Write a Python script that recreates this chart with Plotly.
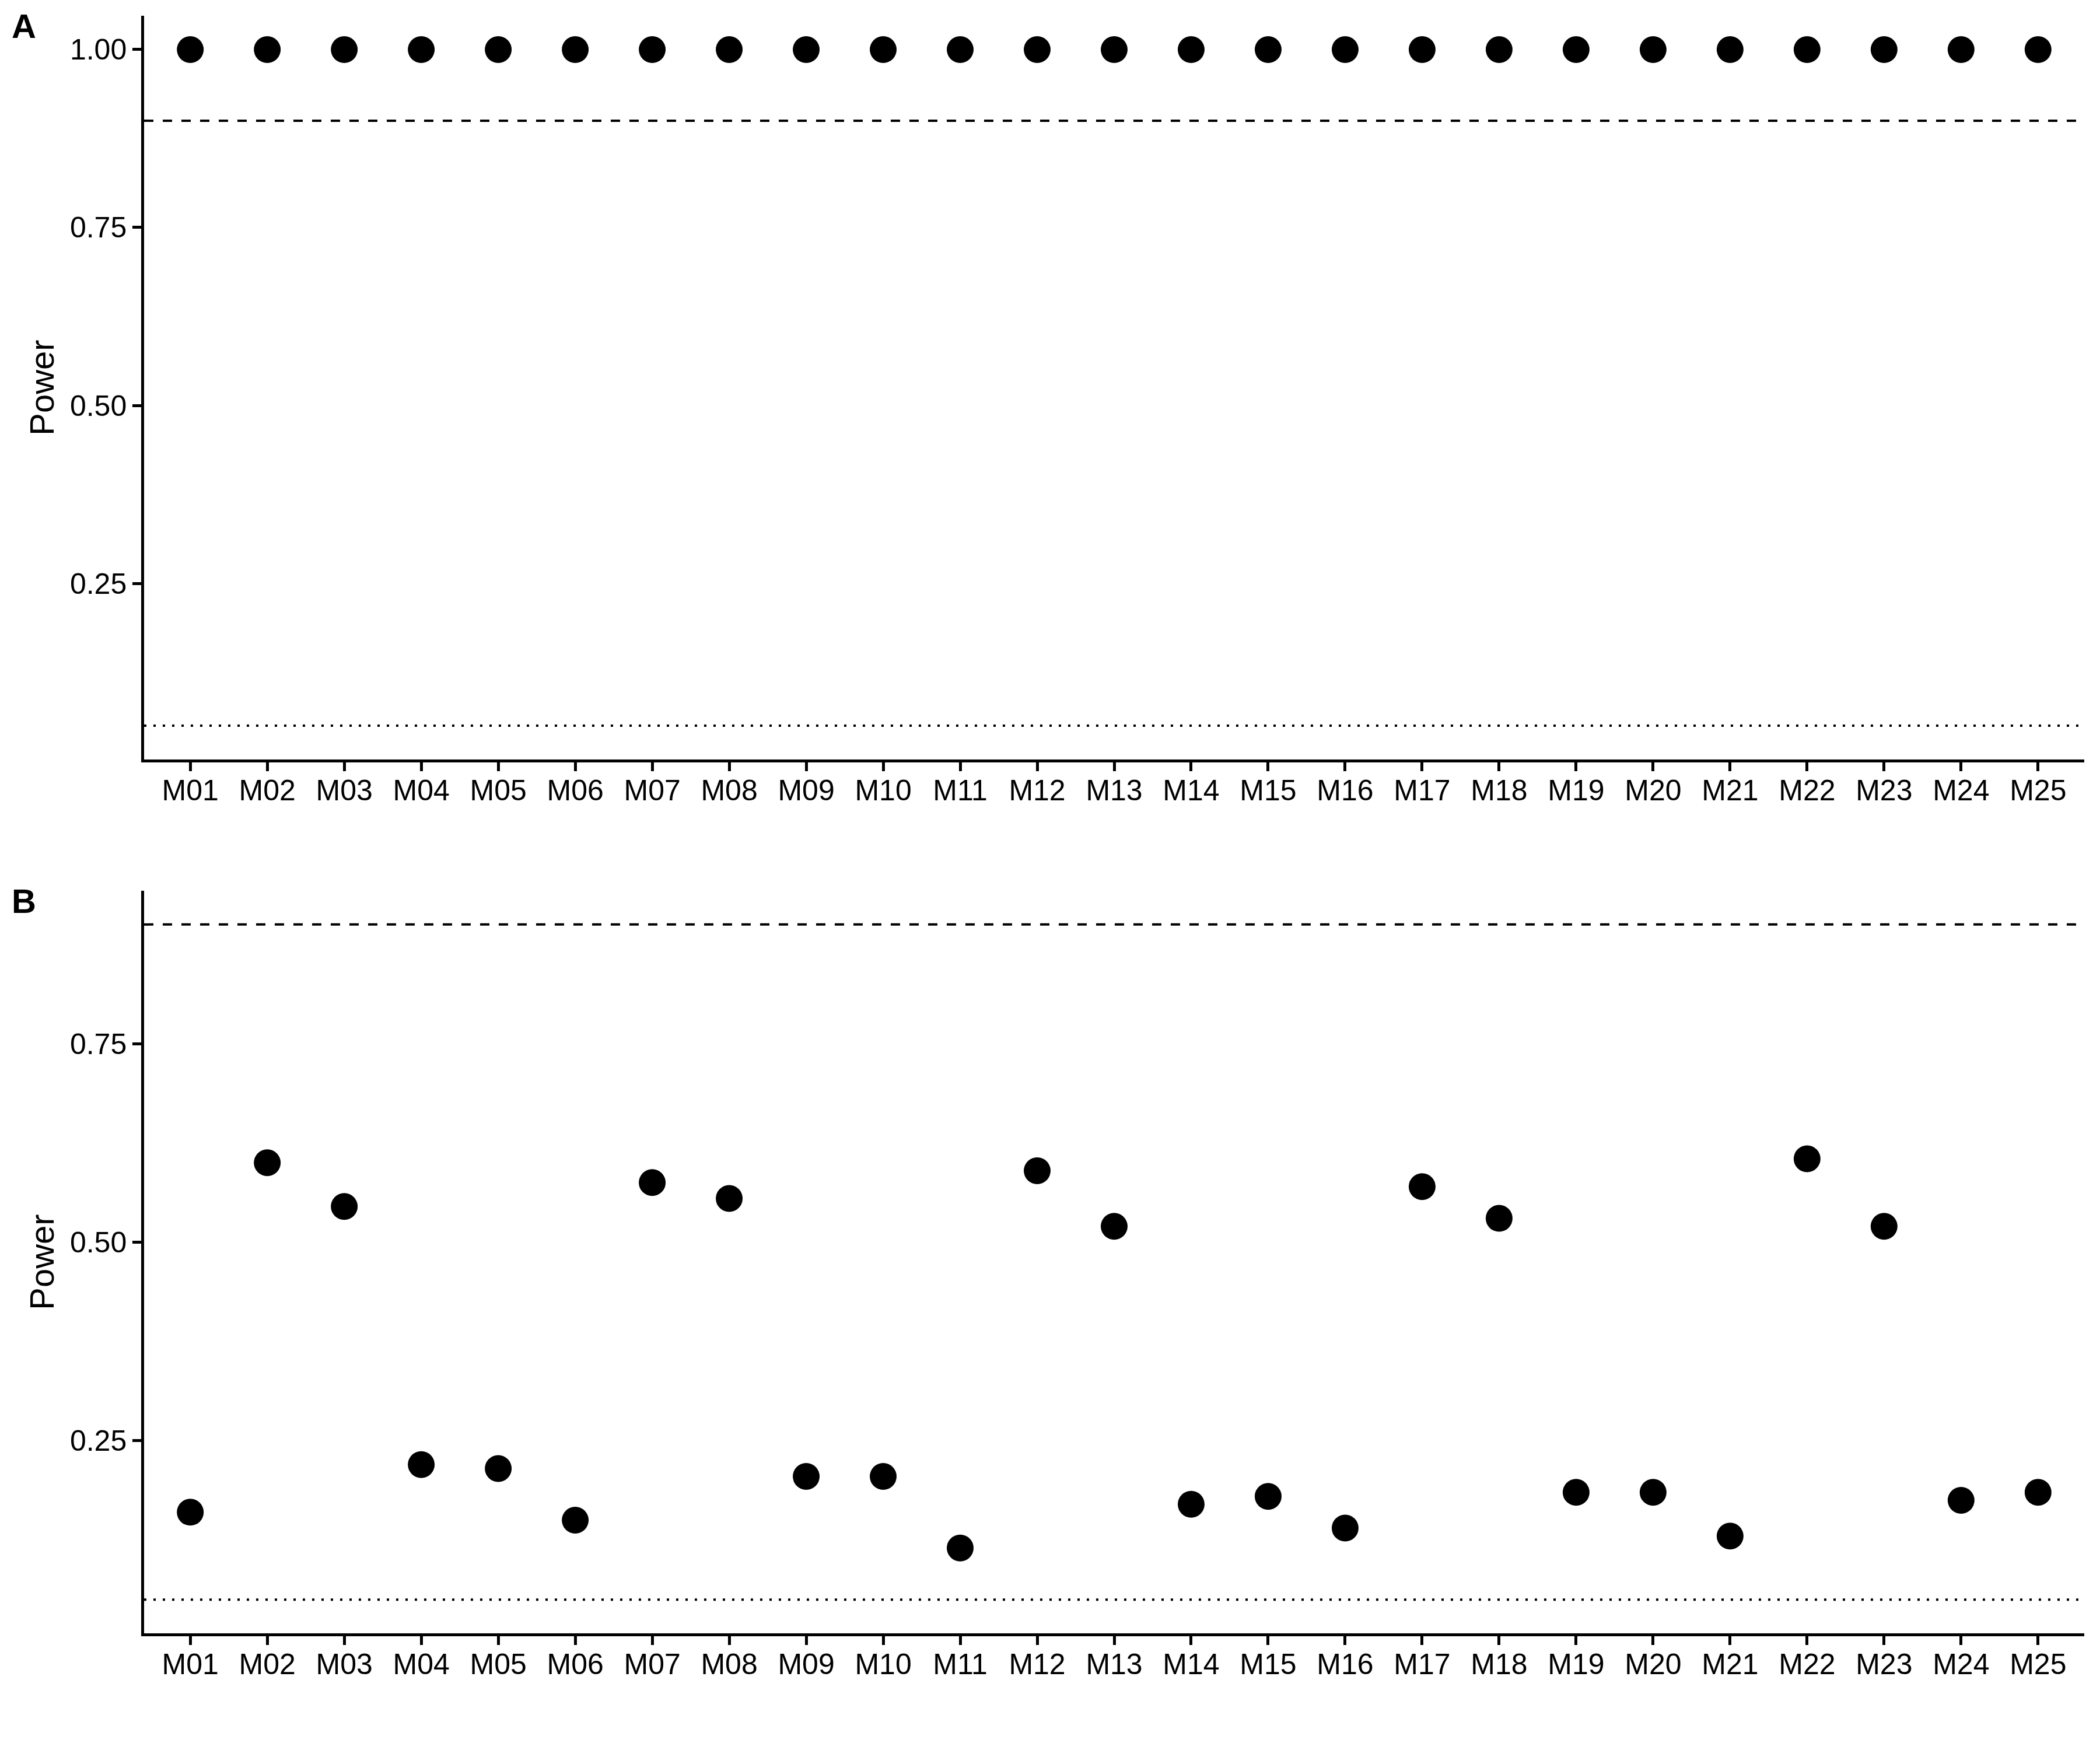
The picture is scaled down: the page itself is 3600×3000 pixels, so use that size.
import plotly.graph_objects as go

models = [f"M{i:02d}" for i in range(1, 26)]
power_a = [1.0] * 25
power_b = [0.16, 0.60, 0.545, 0.22, 0.215, 0.15, 0.575, 0.555, 0.205, 0.205,
           0.115, 0.59, 0.52, 0.17, 0.18, 0.14, 0.57, 0.53, 0.185, 0.185,
           0.13, 0.605, 0.52, 0.175, 0.185]
target_power = 0.9
alpha_level = 0.05
yticks_a = [0.25, 0.50, 0.75, 1.00]
yticks_b = [0.25, 0.50, 0.75]
panel_labels = ["A", "B"]

W, H = 3600, 3000
OFF = 8  # default page body margin in the HTML output
FONT = "Liberation Sans, Arial, sans-serif"


def px_x(X):
    return (X - OFF) / W


def px_y(Y):
    return 1 - (Y - OFF) / H


x_dom = [px_x(247), px_x(3573)]
ya_dom = [px_y(1302), px_y(27)]
yb_dom = [px_y(2800), px_y(1527)]


def yrange(vals):
    lo = min(min(vals), alpha_level)
    hi = max(max(vals), target_power)
    pad = 0.05 * (hi - lo)
    return [lo - pad, hi + pad]


fig = go.Figure()
marker = dict(color="black", size=46, line=dict(width=0))
fig.add_trace(go.Scatter(x=models, y=power_a, mode="markers", marker=marker,
                         xaxis="x", yaxis="y", showlegend=False))
fig.add_trace(go.Scatter(x=models, y=power_b, mode="markers", marker=marker,
                         xaxis="x2", yaxis="y2", showlegend=False))

common_x = dict(type="category", categoryorder="array", categoryarray=models,
                range=[-0.6, len(models) - 0.4], showline=True, linewidth=4.5,
                linecolor="black", ticks="outside", ticklen=15, tickwidth=4.5,
                tickcolor="black", showgrid=False, zeroline=False,
                ticklabelstandoff=-10,
                tickfont=dict(family=FONT, size=50, color="black"), domain=x_dom,
                fixedrange=True)


def common_y(dom, ticks, rng, anchor):
    return dict(domain=dom, range=rng, tickvals=ticks,
                ticktext=[f"{t:.2f}" for t in ticks], showline=True,
                linewidth=4.5, linecolor="black", ticks="outside", ticklen=15,
                tickwidth=4.5, tickcolor="black", showgrid=False, zeroline=False,
                tickfont=dict(family=FONT, size=50, color="black"),
                title=dict(text="Power", font=dict(family=FONT, size=58, color="black"),
                           standoff=10),
                anchor=anchor)


fig.update_layout(
    width=W, height=H, margin=dict(l=0, r=0, t=0, b=0, autoexpand=False),
    paper_bgcolor="white", plot_bgcolor="white",
    xaxis=dict(common_x, anchor="y"),
    xaxis2=dict(common_x, anchor="y2"),
    yaxis=common_y(ya_dom, yticks_a, yrange(power_a), "x"),
    yaxis2=common_y(yb_dom, yticks_b, yrange(power_b), "x2"),
)

for xr, yr in [("x", "y"), ("x2", "y2")]:
    fig.add_shape(type="line", xref=f"{xr} domain", yref=yr, x0=0, x1=1,
                  y0=target_power, y1=target_power,
                  line=dict(color="black", width=4, dash="16px,16px"), layer="below")
    fig.add_shape(type="line", xref=f"{xr} domain", yref=yr, x0=0, x1=1,
                  y0=alpha_level, y1=alpha_level,
                  line=dict(color="black", width=4, dash="4px,12px"), layer="below")

for lab, ytop in zip(panel_labels, [px_y(10), px_y(1510)]):
    fig.add_annotation(text=f"<b>{lab}</b>", xref="paper", yref="paper",
                       x=px_x(18), y=min(ytop, 1.0), xanchor="left", yanchor="top",
                       showarrow=False, font=dict(family=FONT, size=58, color="black"))

fig.write_html("out.html")
